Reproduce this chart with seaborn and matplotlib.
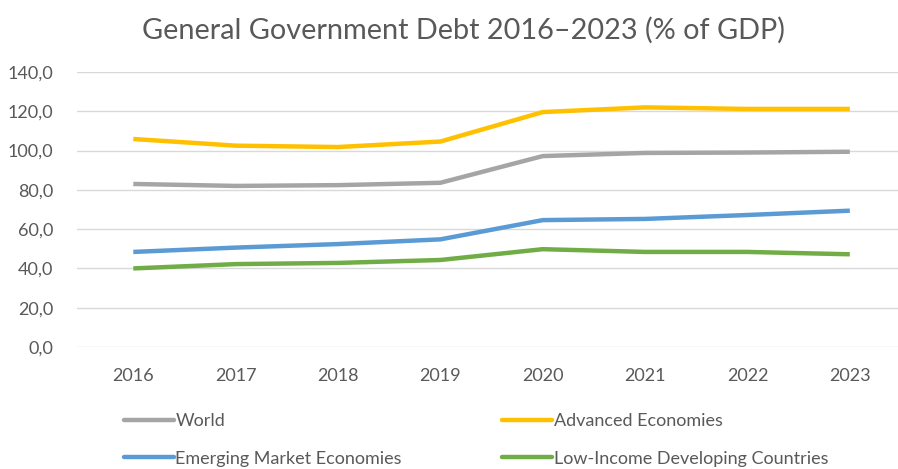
import matplotlib
matplotlib.use("Agg")
import matplotlib.pyplot as plt
from matplotlib.lines import Line2D
import seaborn as sns
import pandas as pd

years = [2016, 2017, 2018, 2019, 2020, 2021, 2022, 2023]
world = [83.0, 82.0, 82.4, 83.6, 97.2, 98.8, 99.0, 99.4]
advanced = [105.9, 102.5, 101.8, 104.6, 119.6, 122.0, 121.2, 121.2]
emerging = [48.4, 50.6, 52.4, 54.8, 64.6, 65.2, 67.2, 69.4]
low_income = [40.0, 42.2, 42.8, 44.3, 49.8, 48.4, 48.4, 47.2]

series_names = ["World", "Advanced Economies", "Emerging Market Economies",
                "Low-Income Developing Countries"]
series_values = [world, advanced, emerging, low_income]
colors = ["#A5A5A5", "#FFC000", "#5B9BD5", "#70AD47"]
y_ticks = [0, 20, 40, 60, 80, 100, 120, 140]

rows = []
for name, vals in zip(series_names, series_values):
    for i, (yr, v) in enumerate(zip(years, vals)):
        rows.append({"pos": i, "year": yr, "series": name, "value": v})
df = pd.DataFrame(rows)

sns.set_theme(style="white")
plt.rcParams["font.family"] = ["Lato", "DejaVu Sans"]

TEXT = "#595959"
fig = plt.figure(figsize=(8.98, 4.69), dpi=100)
W, H = 898, 469
ax = fig.add_axes([77 / W, (H - 347) / H, (901 - 77) / W, (347 - 72) / H])

sns.lineplot(data=df, x="pos", y="value", hue="series", hue_order=series_names,
             palette=colors, linewidth=3.2, ax=ax, legend=False,
             solid_capstyle="butt")

ax.set_xlim(-0.55, len(years) - 0.5)
ax.set_ylim(0, 140)
ax.set_yticks(y_ticks)
ax.set_yticklabels([f"{t:.1f}".replace(".", ",") for t in y_ticks])
ax.set_xticks(range(len(years)))
ax.set_xticklabels([str(y) for y in years])
ax.tick_params(axis="both", length=0, labelsize=13, labelcolor=TEXT)
ax.tick_params(axis="y", pad=17)
ax.tick_params(axis="x", pad=15)
ax.set_xlabel("")
ax.set_ylabel("")
for s in ax.spines.values():
    s.set_visible(False)
ax.yaxis.grid(True, color="#D9D9D9", linewidth=1.0)
ax.set_axisbelow(True)

fig.text(463 / W, 1 - 30 / H, "General Government Debt 2016\u20132023 (% of GDP)",
         ha="center", va="center", fontsize=20.8, color=TEXT)

order = [0, 2, 1, 3]
handles = [Line2D([], [], color=colors[i], linewidth=3.2) for i in order]
labels = [series_names[i] for i in order]
leg = fig.legend(handles, labels, ncol=2, loc="upper left",
                 bbox_to_anchor=(115 / W, 1 - 404 / H), frameon=False,
                 fontsize=13, handlelength=2.75, handletextpad=0.1,
                 columnspacing=5.55, labelspacing=1.2, borderpad=0)
for t in leg.get_texts():
    t.set_color(TEXT)

fig.savefig("out.png", dpi=100)
